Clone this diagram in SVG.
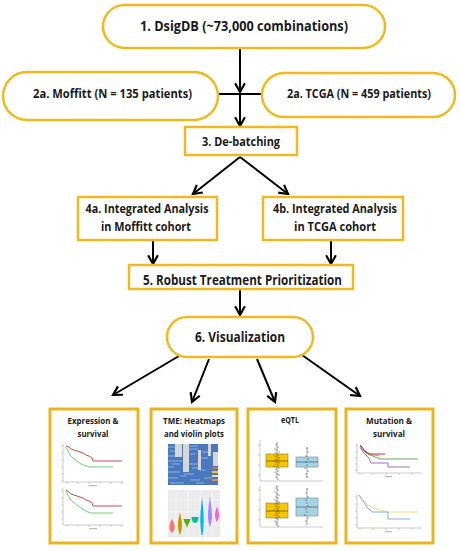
<svg xmlns="http://www.w3.org/2000/svg" width="460" height="550" viewBox="0 0 460 550">
<style>
.node{fill:#fff;stroke:#EDBA1F;stroke-width:2.5}
.panel{fill:#fff;stroke:#E9B41E;stroke-width:3}
.t{font-family:'Open Sans',Lato,sans-serif;font-weight:700;fill:#1a1a1a;text-anchor:middle}
.c{stroke:#000;stroke-width:2;fill:none}
.ax{stroke:#aaa;stroke-width:.6;fill:none}
.km{fill:none;stroke-width:1}
.dots{fill:none;stroke:#222;stroke-width:1.1;stroke-linecap:round}
</style>
<defs>
<marker id="arr" viewBox="0 0 12 12" refX="10" refY="6" markerWidth="13" markerHeight="13" markerUnits="userSpaceOnUse" orient="auto">
<path d="M2,1.5 L10,6 L2,10.5" fill="none" stroke="#000" stroke-width="2"/>
</marker>
</defs>
<rect width="460" height="550" fill="#fff"/>

<g id="connectors">
<line class="c" x1="240" y1="49" x2="240" y2="92" marker-end="url(#arr)"/>
<line class="c" x1="218" y1="94" x2="262" y2="94"/>
<line class="c" x1="240" y1="94" x2="240" y2="126" marker-end="url(#arr)"/>
<line class="c" x1="240" y1="157" x2="193" y2="194" marker-end="url(#arr)"/>
<line class="c" x1="240" y1="157" x2="288" y2="194" marker-end="url(#arr)"/>
<line class="c" x1="153" y1="241" x2="153" y2="264" marker-end="url(#arr)"/>
<line class="c" x1="331" y1="241" x2="331" y2="264" marker-end="url(#arr)"/>
<line class="c" x1="240" y1="290" x2="240" y2="315" marker-end="url(#arr)"/>
<line class="c" x1="179" y1="356" x2="113" y2="395" marker-end="url(#arr)"/>
<line class="c" x1="209" y1="359" x2="192" y2="402" marker-end="url(#arr)"/>
<line class="c" x1="257" y1="359" x2="275" y2="402" marker-end="url(#arr)"/>
<line class="c" x1="302" y1="355" x2="360" y2="396" marker-end="url(#arr)"/>
</g>

<g id="n1">
<rect class="node" x="103" y="5" width="282" height="43" rx="21.5"/>
<text class="t" x="244" y="31" font-size="14" textLength="208" lengthAdjust="spacingAndGlyphs">1.  DsigDB (~73,000 combinations)</text>
</g>
<g id="n2a-moffitt">
<rect class="node" x="3" y="72" width="215" height="48" rx="24"/>
<text class="t" x="112.5" y="98" font-size="13" textLength="159" lengthAdjust="spacingAndGlyphs">2a. Moffitt (N = 135 patients)</text>
</g>
<g id="n2a-tcga">
<rect class="node" x="262" y="73" width="193" height="44" rx="22"/>
<text class="t" x="359" y="98" font-size="13" textLength="144" lengthAdjust="spacingAndGlyphs">2a. TCGA (N = 459 patients)</text>
</g>
<g id="n3">
<rect class="node" x="185" y="127" width="112" height="28"/>
<text class="t" x="241" y="146" font-size="13" textLength="78" lengthAdjust="spacingAndGlyphs">3. De-batching</text>
</g>
<g id="n4a">
<rect class="node" x="78" y="197" width="139" height="43"/>
<text class="t" x="147" y="213" font-size="13" textLength="123" lengthAdjust="spacingAndGlyphs">4a. Integrated Analysis</text>
<text class="t" x="146" y="231" font-size="13" textLength="90" lengthAdjust="spacingAndGlyphs">in Moffitt cohort</text>
</g>
<g id="n4b">
<rect class="node" x="263" y="197" width="140" height="43"/>
<text class="t" x="335" y="213" font-size="13" textLength="124" lengthAdjust="spacingAndGlyphs">4b. Integrated Analysis</text>
<text class="t" x="335" y="231" font-size="13" textLength="82" lengthAdjust="spacingAndGlyphs">in TCGA cohort</text>
</g>
<g id="n5">
<rect class="node" x="129" y="265" width="224" height="24"/>
<text class="t" x="242.5" y="285" font-size="13.5" textLength="199" lengthAdjust="spacingAndGlyphs">5. Robust Treatment Prioritization</text>
</g>
<g id="n6">
<rect class="node" x="167" y="317" width="146" height="40" rx="20"/>
<text class="t" x="240" y="342" font-size="13.5" textLength="90" lengthAdjust="spacingAndGlyphs">6. Visualization</text>
</g>

<g id="p1">
<rect class="panel" x="50" y="409" width="88" height="134"/>
<text class="t" x="93" y="424" font-size="8.5" textLength="51" lengthAdjust="spacingAndGlyphs">Expression &amp;</text>
<text class="t" x="93" y="437" font-size="8.5" textLength="31" lengthAdjust="spacingAndGlyphs">survival</text>
<path class="ax" d="M63,443V482H123M61,446h2M61,453h2M61,460h2M61,467h2M61,474h2M61,481h2M67,482v2M78,482v2M89,482v2M100,482v2M111,482v2M122,482v2"/>
<rect x="89" y="485" width="8" height="1.2" fill="#bbb"/>
<path class="km" stroke="#c0504d" d="M66,446L69,447L71,449L74,450L77,451L80,452L83,453L86,455L89,456L92,458L93,461L122,461"/>
<path class="km" stroke="#6cd36c" d="M66,447L68,451L70,455L73,458L77,461L81,464L86,466L90,467L113,467"/>
<path class="ax" d="M63,488V525H123M61,491h2M61,498h2M61,505h2M61,512h2M61,519h2M67,525v2M78,525v2M89,525v2M100,525v2M111,525v2M122,525v2"/>
<rect x="89" y="528" width="8" height="1.2" fill="#bbb"/>
<path class="km" stroke="#c0504d" d="M66,490L69,492L71,494L74,495L77,496L80,497L83,498L86,500L89,501L92,503L93,506L122,506"/>
<path class="km" stroke="#6cd36c" d="M66,491L68,495L70,499L73,502L77,505L81,508L86,511L90,513L113,513"/>
</g>

<g id="p2">
<rect class="panel" x="151" y="409" width="86" height="134"/>
<text class="t" x="194" y="424" font-size="8.5" textLength="62" lengthAdjust="spacingAndGlyphs">TME: Heatmaps</text>
<text class="t" x="194" y="437" font-size="8.5" textLength="60" lengthAdjust="spacingAndGlyphs">and violin plots</text>
<rect x="168" y="444" width="50" height="41" fill="#4a78bf"/>
<path stroke="#8cb0e0" stroke-width="1" d="M168,447h12M170,451h10M168,456h8M188,449h10M190,454h6M168,461h14M186,464h12M168,467h6M200,458h8M168,472h12M184,474h10M200,470h6M168,478h10M190,480h10M204,478h8M170,483h14M196,483h8M190,446h8M202,452h6M172,464h8M192,468h6M180,476h6"/>
<rect x="175" y="444" width="7" height="13" fill="#d6d6d6"/>
<rect x="183" y="444" width="6" height="28" fill="#d6d6d6"/>
<rect x="198" y="450" width="3" height="20" fill="#d6d6d6"/>
<rect x="208" y="444" width="3" height="12" fill="#d6d6d6"/>
<rect x="213" y="452" width="5" height="14" fill="#d6d6d6"/>
<rect x="212" y="467" width="6" height="2" fill="#e06a3a"/>
<rect x="212" y="471" width="6" height="2" fill="#f2c648"/>
<rect x="212" y="475" width="6" height="2" fill="#f4e3a8"/>
<rect x="212" y="479" width="6" height="2" fill="#e88a5a"/>
<rect x="168" y="490" width="52" height="47" fill="#ebebeb"/>
<path stroke="#fff" stroke-width=".5" d="M168,500h52M168,512h52M168,524h52M176,490v47M188,490v47M200,490v47M212,490v47"/>
<path fill="#F8766D" d="M172,519C175,524 176,529 172,533C168,529 169,524 172,519Z"/>
<path fill="#C49A00" d="M180,512C181,518 184,526 180,535C176,526 179,518 180,512Z"/>
<path fill="#53B400" d="M183.5,519H190.5C190,522 188,524 187,528C186,524 184,522 183.5,519Z"/>
<path fill="#00C094" d="M191.5,517H198.5C198.5,520 197,523 195,523C193,523 191.5,520 191.5,517Z"/>
<path fill="#00B6EB" d="M202,497C203,508 205,518 202.5,535C202,535 202,535 201.5,535C199,518 201,508 202,497Z"/>
<path fill="#A58AFF" d="M210,496C211,505 214,518 210,527C206,518 209,505 210,496Z"/>
<path fill="#FB61D7" d="M217,506C218,510 221,515 217,522C213,515 216,510 217,506Z"/>
</g>

<g id="p3">
<rect class="panel" x="248" y="409" width="88" height="134"/>
<text class="t" x="290" y="423" font-size="8.5" textLength="18" lengthAdjust="spacingAndGlyphs">eQTL</text>
<path class="ax" d="M260,440V481H323M258,445h2M258,455h2M258,465h2M258,475h2"/>
<path stroke="#777" stroke-width=".6" d="M277,443V479M307,447V478"/>
<rect x="266" y="454" width="22" height="13" fill="#F7C600" stroke="#8a7a40" stroke-width=".6"/>
<line x1="266" y1="461" x2="288" y2="461" stroke="#6a5a20" stroke-width=".8"/>
<rect x="296" y="457" width="22" height="10" fill="#a7d4e4" stroke="#6a8a98" stroke-width=".6"/>
<line x1="296" y1="462" x2="318" y2="462" stroke="#4a6a78" stroke-width=".8"/>
<path class="dots" d="M277,443h0M276,445h0M278,447h0M275,449h0M277,450h0M279,452h0M276,453h0M278,455h0M275,456h0M277,457h0M279,458h0M276,459h0M278,460h0M275,461h0M277,462h0M279,463h0M276,464h0M278,465h0M274,466h0M277,467h0M279,468h0M276,469h0M278,471h0M275,472h0M277,474h0M279,475h0M276,477h0M278,479h0M307,448h0M308,452h0M306,456h0M308,459h0M306,462h0M307,465h0M305,468h0M308,471h0M306,474h0M307,477h0"/>
<path class="ax" d="M260,485V527H323M258,490h2M258,500h2M258,510h2M258,520h2"/>
<path stroke="#777" stroke-width=".6" d="M277,486V526M307,488V524"/>
<rect x="266" y="503" width="22" height="15" fill="#F7C600" stroke="#8a7a40" stroke-width=".6"/>
<line x1="266" y1="511" x2="288" y2="511" stroke="#6a5a20" stroke-width=".8"/>
<rect x="296" y="498" width="22" height="18" fill="#a7d4e4" stroke="#6a8a98" stroke-width=".6"/>
<line x1="296" y1="507" x2="318" y2="507" stroke="#4a6a78" stroke-width=".8"/>
<path class="dots" d="M277,486h0M276,488h0M278,490h0M275,492h0M277,494h0M279,495h0M276,497h0M278,498h0M275,500h0M277,501h0M279,502h0M276,503h0M278,504h0M275,505h0M277,506h0M279,507h0M276,508h0M278,509h0M274,510h0M277,511h0M279,512h0M276,513h0M278,514h0M275,515h0M277,516h0M279,517h0M276,518h0M278,519h0M275,521h0M277,522h0M276,524h0M278,526h0M307,489h0M306,493h0M308,497h0M306,500h0M307,503h0M308,506h0M306,509h0M307,512h0M305,515h0M308,518h0M306,521h0M307,524h0"/>
</g>

<g id="p4">
<rect class="panel" x="346" y="409" width="87" height="134"/>
<text class="t" x="389" y="424" font-size="8.5" textLength="46" lengthAdjust="spacingAndGlyphs">Mutation &amp;</text>
<text class="t" x="389" y="437" font-size="8.5" textLength="32" lengthAdjust="spacingAndGlyphs">survival</text>
<path class="ax" d="M357,443V473H422M355,446h2M355,452h2M355,458h2M355,464h2M355,470h2M360,473v2M373,473v2M386,473v2M399,473v2M412,473v2"/>
<rect x="385" y="476" width="7" height="1.2" fill="#bbb"/>
<path class="km" stroke="#6aa84f" d="M360,446L363,450L366,453L370,455L375,457L380,459L418,459"/>
<path class="km" stroke="#9b6fd0" d="M360,447L363,452L366,455L369,458L371,463L388,463L388,467L410,467"/>
<path class="km" stroke="#e39a4a" d="M360,446L364,450L368,453L373,455L380,456"/>
<path class="km" stroke="#b8304a" d="M360,445L362,447L364,450L366,452L370,454L385,454"/>
<path class="ax" d="M357,494V528H422M355,497h2M355,504h2M355,511h2M355,518h2M355,525h2M360,528v2M373,528v2M386,528v2M399,528v2M412,528v2"/>
<rect x="385" y="531" width="7" height="1.2" fill="#bbb"/>
<path class="km" stroke="#e6e27a" d="M359,495L363,500L368,505L374,508L380,510L388,512L418,512"/>
<path class="km" stroke="#7fb2d8" d="M359,495L363,501L367,507L372,512L388,512L388,519L410,519"/>
</g>
</svg>
